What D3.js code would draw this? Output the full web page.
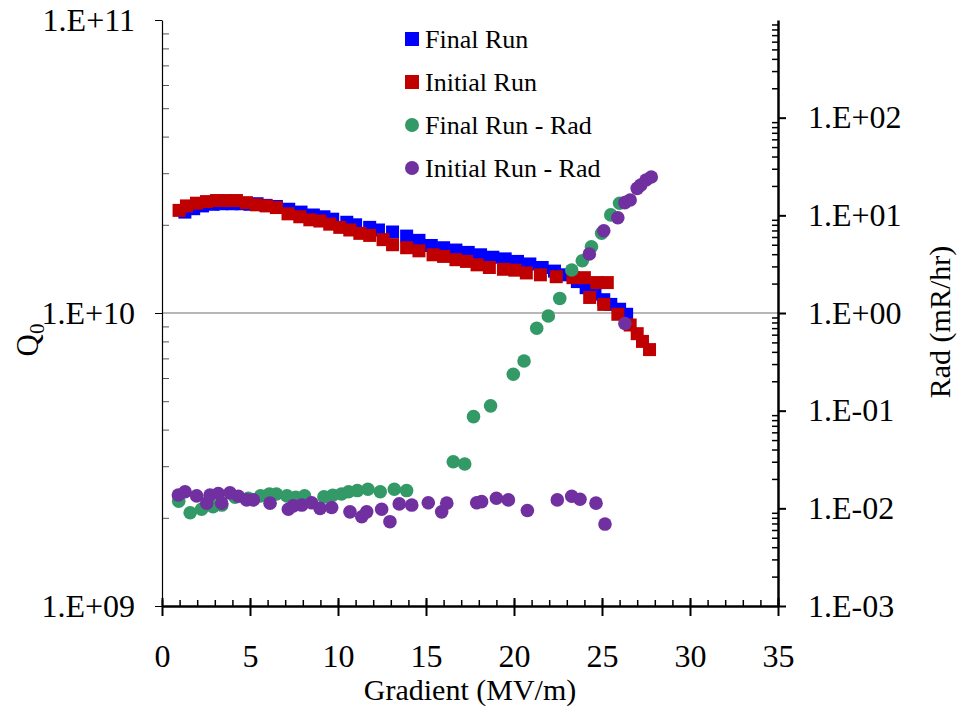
<!DOCTYPE html>
<html>
<head>
<meta charset="utf-8">
<script src="https://cdn.jsdelivr.net/npm/d3@7"></script>
<style>
  body { margin: 0; background: #fff; }
  svg text { font-family: "Liberation Serif", "Times New Roman", serif; }
</style>
</head>
<body>
<div id="chart"></div>
<script>
// Final Run (Q0 vs gradient)
const finalGrad = [1.3, 1.8, 2.3, 2.9, 3.4, 4.0, 4.5, 5.0, 5.4, 5.9, 6.5, 7.2, 7.9, 8.6, 9.2, 9.7, 10.5, 11.0, 11.8, 12.3, 13.1, 13.9, 14.6, 15.3, 16.0, 16.7, 17.4, 18.1, 18.8, 19.5, 20.2, 20.9, 21.6, 22.3, 23.0, 23.6, 24.1, 24.6, 25.1, 25.5, 26.0, 26.4];
const finalQ = [2.21e10, 2.27e10, 2.32e10, 2.35e10, 2.36e10, 2.36e10, 2.36e10, 2.35e10, 2.36e10, 2.33e10, 2.31e10, 2.26e10, 2.21e10, 2.16e10, 2.13e10, 2.09e10, 2.04e10, 2.00e10, 1.96e10, 1.92e10, 1.89e10, 1.83e10, 1.77e10, 1.70e10, 1.67e10, 1.64e10, 1.61e10, 1.58e10, 1.55e10, 1.53e10, 1.50e10, 1.47e10, 1.43e10, 1.39e10, 1.35e10, 1.28e10, 1.22e10, 1.16e10, 1.11e10, 1.07e10, 1.03e10, 0.99e10];

// Initial Run (Q0 vs gradient)
const initGrad = [0.97, 1.39, 1.96, 2.53, 3.1, 3.66, 4.23, 4.8, 5.37, 5.94, 6.5, 7.16, 7.83, 8.4, 8.97, 9.53, 10.1, 10.67, 11.24, 11.8, 12.56, 13.1, 13.9, 14.6, 15.4, 16.0, 16.7, 17.3, 17.9, 18.6, 19.4, 20.05, 20.7, 21.5, 22.4, 23.35, 24.0, 24.7, 25.3, 24.3, 25.1, 25.9, 26.6, 27.0, 27.3, 27.7];
const initQ = [2.24e10, 2.32e10, 2.37e10, 2.40e10, 2.42e10, 2.42e10, 2.42e10, 2.38e10, 2.34e10, 2.32e10, 2.29e10, 2.18e10, 2.13e10, 2.08e10, 2.06e10, 2.01e10, 1.96e10, 1.92e10, 1.87e10, 1.84e10, 1.78e10, 1.71e10, 1.67e10, 1.63e10, 1.58e10, 1.56e10, 1.52e10, 1.50e10, 1.46e10, 1.43e10, 1.41e10, 1.40e10, 1.37e10, 1.35e10, 1.33e10, 1.32e10, 1.32e10, 1.27e10, 1.27e10, 1.13e10, 1.07e10, 0.99e10, 0.91e10, 0.85e10, 0.80e10, 0.75e10];

// Final Run - Rad (mR/hr)
const finalRadGrad = [0.95, 1.6, 2.25, 2.9, 3.4, 4.15, 4.9, 5.6, 6.1, 6.5, 7.1, 7.6, 8.1, 9.2, 9.7, 10.2, 10.6, 11.1, 11.7, 12.4, 13.2, 13.9, 16.55, 17.2, 17.7, 18.67, 19.96, 20.57, 21.29, 21.95, 22.6, 23.28, 23.88, 24.4, 24.98, 25.5, 26.0];
const finalRad = [0.0118, 0.0090, 0.0098, 0.0104, 0.0108, 0.0130, 0.0127, 0.0134, 0.0140, 0.0140, 0.0134, 0.0130, 0.0134, 0.0131, 0.0136, 0.0140, 0.0148, 0.0152, 0.0157, 0.0148, 0.0157, 0.0152, 0.030, 0.0284, 0.0868, 0.112, 0.236, 0.322, 0.697, 0.932, 1.41, 2.76, 3.43, 4.77, 6.55, 10.1, 13.3];

// Initial Run - Rad (mR/hr)
const initRadGrad = [0.93, 1.31, 1.97, 2.54, 2.73, 3.2, 3.39, 3.86, 4.34, 4.81, 5.19, 6.14, 7.18, 7.46, 7.94, 8.5, 8.98, 9.64, 10.68, 11.35, 11.63, 12.48, 12.95, 13.48, 14.19, 15.13, 15.89, 16.18, 17.88, 18.16, 19.0, 19.68, 20.76, 22.46, 23.28, 23.75, 24.66, 25.17, 24.28, 25.1, 25.9, 26.3, 26.3, 26.6, 27.0, 27.2, 27.5, 27.8];
const initRad = [0.0137, 0.0148, 0.0134, 0.0113, 0.0137, 0.0142, 0.0113, 0.0144, 0.0133, 0.0122, 0.0122, 0.0113, 0.0098, 0.0106, 0.0108, 0.0114, 0.0100, 0.0102, 0.0092, 0.0082, 0.0092, 0.0098, 0.0073, 0.0111, 0.0108, 0.0114, 0.0092, 0.0113, 0.0114, 0.0117, 0.0127, 0.0122, 0.0095, 0.0122, 0.0133, 0.0124, 0.0113, 0.0069, 4.02, 6.96, 9.46, 0.78, 13.5, 14.35, 18.9, 20.4, 23.0, 24.7];

const xTicks = [0, 5, 10, 15, 20, 25, 30, 35];
const qTicks = [1e9, 1e10, 1e11];
const radTicks = [1e-3, 1e-2, 1e-1, 1e0, 1e1, 1e2];

const legendItems = [
  {label: "Final Run", color: "#0000FF", shape: "square"},
  {label: "Initial Run", color: "#C00000", shape: "square"},
  {label: "Final Run - Rad", color: "#339966", shape: "circle"},
  {label: "Initial Run - Rad", color: "#7030A0", shape: "circle"}
];

const width = 959, height = 711;
const plotL = 162, plotR = 778, plotT = 20, plotB = 606;

const svg = d3.select("#chart").append("svg")
  .attr("width", width)
  .attr("height", height);

// scales
const x = d3.scaleLinear().domain([0, 35]).range([plotL, plotR]);
const yQ = d3.scaleLog().domain([1e9, 1e11]).range([plotB, plotT]);
const yR = d3.scaleLog().domain([1e-3, 1e3]).range([plotB, plotT]);

function expLabel(v) {
  const e = Math.round(Math.log10(v));
  return "1.E" + (e < 0 ? "-" : "+") + String(Math.abs(e)).padStart(2, "0");
}

function minorsOf(scale) {
  const [a, b] = scale.domain();
  const out = [];
  for (let e = Math.round(Math.log10(a)); e < Math.round(Math.log10(b)); e++) {
    for (let m = 2; m <= 9; m++) out.push(m * Math.pow(10, e));
  }
  return out;
}

// gridline at 1e10
svg.append("line")
  .attr("x1", plotL).attr("x2", plotR)
  .attr("y1", yQ(1e10)).attr("y2", yQ(1e10))
  .attr("stroke", "#707070").attr("stroke-width", 1.2);

// left axis: minor ticks inside
svg.append("g")
  .attr("transform", `translate(${plotL},0)`)
  .call(d3.axisRight(yQ).tickValues(minorsOf(yQ)).tickSize(7).tickFormat(""))
  .call(g => g.select(".domain").remove())
  .call(g => g.selectAll("line").attr("stroke", "#555"));

// left axis: majors outside
const leftAxis = svg.append("g")
  .attr("transform", `translate(${plotL},0)`)
  .call(d3.axisLeft(yQ).tickValues(qTicks).tickSize(7).tickSizeOuter(0).tickPadding(20).tickFormat(expLabel));
leftAxis.select(".domain").attr("stroke", "#000").attr("stroke-width", 1.2);
leftAxis.selectAll("text").attr("font-size", 32).attr("fill", "#000")
  .attr("font-family", "Liberation Serif");

// right axis: minor ticks inside
svg.append("g")
  .attr("transform", `translate(${plotR},0)`)
  .call(d3.axisLeft(yR).tickValues(minorsOf(yR)).tickSize(6).tickFormat(""))
  .call(g => g.select(".domain").remove())
  .call(g => g.selectAll("line").attr("stroke", "#000").attr("stroke-width", 1.5));

// right axis: majors
const rightAxis = svg.append("g")
  .attr("transform", `translate(${plotR},0)`)
  .call(d3.axisRight(yR).tickValues(radTicks).tickSize(8).tickSizeOuter(0).tickPadding(22).tickFormat(expLabel));
rightAxis.select(".domain").attr("stroke", "#000").attr("stroke-width", 2.5);
rightAxis.selectAll("line").attr("stroke-width", 2);
rightAxis.selectAll("text").attr("font-size", 32).attr("fill", "#000")
  .attr("font-family", "Liberation Serif");

// x axis: minor ticks inside
svg.append("g")
  .attr("transform", `translate(0,${plotB})`)
  .call(d3.axisTop(x).tickValues(d3.range(0, 36, 1)).tickSize(6).tickFormat(""))
  .call(g => g.select(".domain").remove())
  .call(g => g.selectAll("line").attr("stroke", "#000").attr("stroke-width", 1.5));

// x axis: majors crossing
const xAxis = svg.append("g")
  .attr("transform", `translate(0,${plotB})`)
  .call(d3.axisBottom(x).tickValues(xTicks).tickSize(10).tickSizeOuter(0).tickPadding(28));
xAxis.select(".domain").attr("stroke", "#000").attr("stroke-width", 2.5);
xAxis.selectAll(".tick line").attr("y1", -8).attr("stroke-width", 2);
xAxis.selectAll("text").attr("font-size", 32).attr("fill", "#000")
  .attr("font-family", "Liberation Serif");

// axis titles
svg.append("text")
  .attr("x", (plotL + plotR) / 2).attr("y", 700)
  .attr("text-anchor", "middle")
  .attr("font-size", 30)
  .text("Gradient (MV/m)");

const qTitle = svg.append("text")
  .attr("transform", `translate(38,340) rotate(-90)`)
  .attr("text-anchor", "middle")
  .attr("font-size", 31);
qTitle.append("tspan").text("Q");
qTitle.append("tspan").attr("font-size", 21).attr("dy", 6).text("0");

svg.append("text")
  .attr("transform", `translate(950,322) rotate(-90)`)
  .attr("text-anchor", "middle")
  .attr("font-size", 30)
  .text("Rad (mR/hr)");

// data marks
const sq = 13, rad = 6.8;
function squares(gs, qs, color) {
  svg.append("g").selectAll("rect")
    .data(d3.zip(gs, qs))
    .join("rect")
    .attr("x", d => x(d[0]) - sq / 2)
    .attr("y", d => yQ(d[1]) - sq / 2)
    .attr("width", sq).attr("height", sq)
    .attr("fill", color);
}
function circles(gs, rs, color) {
  svg.append("g").selectAll("circle")
    .data(d3.zip(gs, rs))
    .join("circle")
    .attr("cx", d => x(d[0]))
    .attr("cy", d => yR(d[1]))
    .attr("r", rad)
    .attr("fill", color);
}
squares(finalGrad, finalQ, legendItems[0].color);
squares(initGrad, initQ, legendItems[1].color);
circles(finalRadGrad, finalRad, legendItems[2].color);
circles(initRadGrad, initRad, legendItems[3].color);

// legend
const legend = svg.append("g").attr("transform", "translate(412,39)");
legendItems.forEach((d, i) => {
  const row = legend.append("g").attr("transform", `translate(0,${i * 43})`);
  if (d.shape === "square") {
    row.append("rect").attr("x", -7).attr("y", -7).attr("width", 14).attr("height", 14).attr("fill", d.color);
  } else {
    row.append("circle").attr("r", 7).attr("fill", d.color);
  }
  row.append("text").attr("x", 13).attr("y", 9).attr("font-size", 26).text(d.label);
});
</script>
</body>
</html>
